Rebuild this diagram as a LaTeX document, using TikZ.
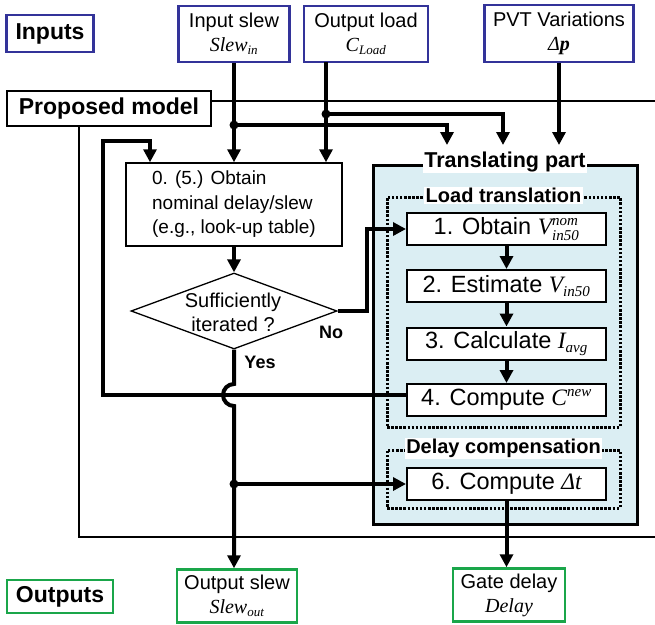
\documentclass[tikz,border=0pt]{standalone}
\usepackage{fontspec}
\setmainfont{Liberation Sans}
\newfontfamily\tms{Liberation Serif}
\usetikzlibrary{arrows.meta,shapes.geometric}
\definecolor{inblue}{RGB}{51,51,153}
\definecolor{outgreen}{RGB}{26,166,74}
\definecolor{tfill}{RGB}{219,238,243}
\newcommand\mi[1]{{\tms\itshape #1}}
\newcommand\sst{\fontsize{13}{13}\selectfont\tms\itshape}
\newcommand\sstb{\fontsize{15}{15}\selectfont\tms\itshape}
\newcommand\msub[2]{$\hbox{\mi{#1}}_{\hbox{\sst #2}}$}
\newcommand\bsub[2]{$\hbox{\mi{#1}}_{\hbox{\sstb #2}}$}
\newcommand\bsup[2]{$\hbox{\mi{#1}}^{\hbox{\sstb #2}}$}
\newcommand\bv[3]{$\hbox{\mi{#1}}^{\hbox{\sstb #2}}_{\hbox{\sstb #3}}$}
\begin{document}
\begin{tikzpicture}[x=1pt,y=-1pt,line join=miter,
  arr/.style={line width=4pt,-{Triangle[width=13pt,length=13pt]}},
  frame/.style={line width=2pt},
  txt/.style={font=\fontsize{20}{24}\selectfont},
  inbox/.style={draw=inblue,line width=2.5pt,fill=white,txt,align=center,inner sep=0pt},
  outbox/.style={draw=outgreen,line width=2.5pt,fill=white,txt,align=center,inner sep=0pt},
  biglbl/.style={font=\bfseries\fontsize{23}{26}\selectfont,inner sep=0pt},
  stepbox/.style={draw,line width=2pt,fill=white,minimum width=199pt,minimum height=32pt,inner sep=0pt,font=\fontsize{23.5}{24}\selectfont},
  dotbox/.style={draw,line width=3pt,dash pattern=on 2.5pt off 1.6pt,inner sep=0pt},
  ttl/.style={fill=white,inner sep=1.5pt,font=\bfseries\fontsize{20}{22}\selectfont},
  jdot/.style={circle,fill,inner sep=0pt,minimum size=9pt},
  yn/.style={font=\bfseries\fontsize{18}{20}\selectfont,inner sep=0pt}]
\useasboundingbox (0,0) rectangle (655,624);

% labels
\node[biglbl,draw=inblue,line width=2.5pt,minimum width=87pt,minimum height=37pt] (inputs) at (50,33.5) {Inputs};
\node[biglbl,draw,line width=2pt,minimum width=204pt,minimum height=35pt,fill=white] (proposed) at (109,108.5) {Proposed model};
\node[biglbl,draw=outgreen,line width=2.5pt,minimum width=106pt,minimum height=33pt] (outputs) at (60,596.5) {Outputs};

% input boxes
\node[inbox,minimum width=111pt,minimum height=56pt] (inslew) at (234,34) {Input slew\\\msub{Slew}{in}};
\node[inbox,minimum width=124pt,minimum height=56pt] (outload) at (366,34) {Output load\\\msub{C}{Load}};
\node[inbox,minimum width=149pt,minimum height=57pt] (pvt) at (559,33.5) {PVT Variations\\{\tms\itshape Δ\bfseries p}};

% frame
\coordinate (frTR) at (657,101);
\coordinate (frBL) at (79,537);
\coordinate (frBR) at (657,537);
\draw[frame] (proposed.east |- frTR) -- (frTR);
\draw[frame] (proposed.south -| frBL) -- (frBL) -- (frBR);

% translating part
\node[draw,fill=tfill,line width=3pt,minimum width=264pt,minimum height=359pt,inner sep=0pt] (trans) at (505,344.5) {};
\node[dotbox,minimum width=233pt,minimum height=230pt] (loadt) at (503.5,312) {};
\node[dotbox,minimum width=233pt,minimum height=58pt] (delayc) at (503.5,479) {};
\node[ttl,font=\bfseries\fontsize{21.5}{23}\selectfont] (transttl) at ([yshift=2pt]trans.north) {Translating part};
\node[ttl] (loadttl) at (loadt.north) {Load translation};
\node[ttl] (delayttl) at (delayc.north) {Delay compensation};

\node[stepbox] (box1) at (506.5,229) {1. Obtain \bv{V}{nom}{in50}};
\node[stepbox] (box2) at (506.5,286) {2. Estimate \bsub{V}{in50}};
\node[stepbox] (box3) at (506.5,343.5) {3. Calculate \bsub{I}{avg}};
\node[stepbox] (box4) at (506.5,400) {4. Compute \bsup{C}{new}};
\node[stepbox] (box6) at (506.5,484) {6. Compute {\tms\itshape Δt}};

% left flow
\node[draw,line width=1.5pt,minimum width=216pt,minimum height=83pt,align=left,font=\fontsize{19}{24.5}\selectfont,inner sep=0pt] (box0) at (234,204.5) {0. (5.) Obtain\\nominal delay/slew\\(e.g., look-up table)};
\node[diamond,draw,line width=1.3pt,aspect=2.7,minimum width=206pt,minimum height=76pt,inner sep=0pt] (dia) at (234,311) {};
\node[txt,align=center] (diatxt) at (233,312) {Sufficiently\\iterated ?};
\node[yn] (no) at (331,332) {No};
\node[yn] (yes) at (260,362) {Yes};

% outputs
\node[outbox,minimum width=120pt,minimum height=53pt] (outslew) at (237,596) {Output slew\\\msub{Slew}{out}};
\node[outbox,minimum width=112pt,minimum height=53pt] (gate) at (509,595) {Gate delay\\\mi{Delay}};

% input connectors
\coordinate (j1) at (234,125);
\coordinate (t1) at (447,145);
\coordinate (ol0) at (326,62);
\coordinate (j2) at (326,114);
\coordinate (t2) at (503,145);
\draw[arr] (inslew.south) -- (inslew.south |- box0.north);
\draw[arr] (j1) -| (t1);
\draw[arr] (ol0) -- (ol0 |- box0.north);
\draw[arr] (j2) -| (t2);
\draw[arr] (pvt.south) -- (pvt.south |- t1);
\node[jdot] (d1) at (j1) {};
\node[jdot] (d2) at (j2) {};

% flow
\draw[arr] (box0.south) -- (dia.north);
\draw[arr] (dia.east) -- ++(29,0) |- (box1.west);
\draw[arr] (box1.south) -- (box2.north);
\draw[arr] (box2.south) -- (box3.north);
\draw[arr] (box3.south) -- (box4.north);

% feedback loop
\coordinate (lp1) at (103,395);
\coordinate (lp2) at (103,141);
\coordinate (lp3) at (150,141);
\draw[arr] ([yshift=5pt]box4.west) -- (lp1) -- (lp2) -- (lp3) -- (lp3 |- box0.north);

% yes path with hop
\coordinate (h1) at (234,384);
\coordinate (j3) at (dia.south |- box6.west);
\draw[arr] (dia.south) -- (h1) arc[start angle=90,end angle=270,radius=11pt] -- (dia.south |- outslew.north);
\draw[arr] (j3) -- (box6.west);
\node[jdot] (d3) at (j3) {};

% delay output
\draw[arr] (box6.south) -- (box6.south |- gate.north);
\end{tikzpicture}
\end{document}
